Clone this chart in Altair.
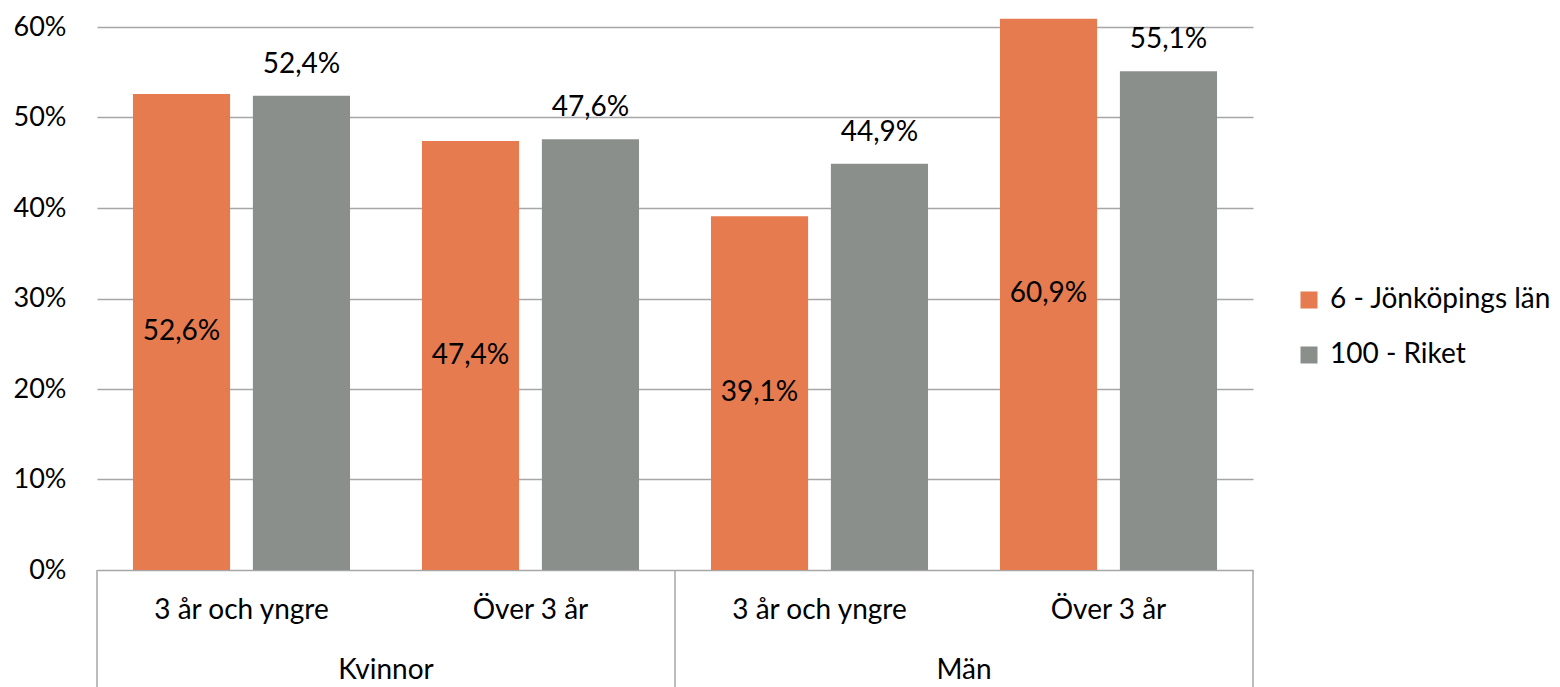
import altair as alt
import pandas as pd

groups = ["Kvinnor", "Kvinnor", "Män", "Män"]
ages = ["3 år och yngre", "Över 3 år", "3 år och yngre", "Över 3 år"]
series_names = ["6 - Jönköpings län", "100 - Riket"]
jonkoping = [52.6, 47.4, 39.1, 60.9]
riket = [52.4, 47.6, 44.9, 55.1]
colors = ["#E57B4F", "#8B8F8C"]

FONT = "Lato"
FS = 28
AXFS = 27
H = 543

cats = [f"{g}|{a}" for g, a in zip(groups, ages)]

rows = []
for i, c in enumerate(cats):
    for s, vals in zip(series_names, [jonkoping, riket]):
        v = vals[i]
        rows.append({
            "cat": c, "series": s, "value": v / 100,
            "label": f"{v:.1f}".replace(".", ",") + "%",
        })
df = pd.DataFrame(rows)

sub_df = pd.DataFrame({"cat": cats, "age": ages})
grp_first = [cats[0], cats[2]]
grp_df = pd.DataFrame({"cat": grp_first, "group": ["Kvinnor", "Män"]})
sep_df = pd.DataFrame({"cat": grp_first})
end_df = pd.DataFrame({"cat": [cats[-1]]})

x_scale = alt.Scale(domain=cats, paddingInner=0, paddingOuter=0)
xo_scale = alt.Scale(domain=series_names, paddingInner=0.19, paddingOuter=0.3)
y_scale = alt.Scale(domain=[0, 0.6], nice=False)

base = alt.Chart(df)

bars = base.mark_bar(clip=False).encode(
    x=alt.X("cat:N", scale=x_scale, axis=None),
    xOffset=alt.XOffset("series:N", scale=xo_scale),
    y=alt.Y("value:Q", scale=y_scale,
            axis=alt.Axis(format=".0%", values=[0, 0.1, 0.2, 0.3, 0.4, 0.5, 0.6],
                          title=None, domain=False, ticks=False, grid=True,
                          gridColor="#A6A6A6", gridWidth=1.5,
                          labelFont=FONT, labelFontSize=AXFS, labelColor="#000000",
                          labelPadding=31)),
    color=alt.Color("series:N", scale=alt.Scale(domain=series_names, range=colors),
                    legend=alt.Legend(title=None, orient="none", legendX=1198, legendY=259,
                                      symbolType="square", symbolSize=289,
                                      symbolStrokeWidth=0, labelFont=FONT,
                                      labelFontSize=FS, labelColor="#000000",
                                      labelLimit=0,
                                      rowPadding=27, labelOffset=7)),
)

lab_in = base.transform_filter(alt.datum.series == series_names[0]).transform_calculate(
    mid="datum.value / 2"
).mark_text(font=FONT, fontSize=FS, color="#000000", baseline="middle").encode(
    x=alt.X("cat:N", scale=x_scale),
    xOffset=alt.XOffset("series:N", scale=xo_scale),
    y=alt.Y("mid:Q", scale=y_scale),
    text="label:N",
)

lab_top = base.transform_filter(alt.datum.series == series_names[1]).mark_text(
    font=FONT, fontSize=FS, color="#000000", baseline="middle", dy=-31
).encode(
    x=alt.X("cat:N", scale=x_scale),
    xOffset=alt.XOffset("series:N", scale=xo_scale),
    y=alt.Y("value:Q", scale=y_scale),
    text="label:N",
)

sub_labels = alt.Chart(sub_df).mark_text(
    font=FONT, fontSize=FS, color="#000000", baseline="middle"
).encode(
    x=alt.X("cat:N", scale=x_scale),
    y=alt.value(H + 41),
    text="age:N",
)

grp_labels = alt.Chart(grp_df).mark_text(
    font=FONT, fontSize=FS, color="#000000", baseline="middle"
).encode(
    x=alt.X("cat:N", scale=x_scale, bandPosition=1),
    y=alt.value(H + 101),
    text="group:N",
)

seps = alt.Chart(sep_df).mark_rule(color="#A6A6A6", strokeWidth=1.5).encode(
    x=alt.X("cat:N", scale=x_scale, bandPosition=0),
    y=alt.value(H),
    y2=alt.value(H + 160),
)
end_sep = alt.Chart(end_df).mark_rule(color="#A6A6A6", strokeWidth=1.5).encode(
    x=alt.X("cat:N", scale=x_scale, bandPosition=1),
    y=alt.value(H),
    y2=alt.value(H + 160),
)

chart = alt.layer(bars, lab_in, lab_top, sub_labels, grp_labels, seps, end_sep).properties(
    width=1156, height=H,
    autosize=alt.AutoSizeParams(type="none"),
    padding={"left": 89, "top": 19, "right": 298, "bottom": 117},
).configure_view(stroke=None)

chart.save("out.html", embed_options={"renderer": "svg", "actions": False})
